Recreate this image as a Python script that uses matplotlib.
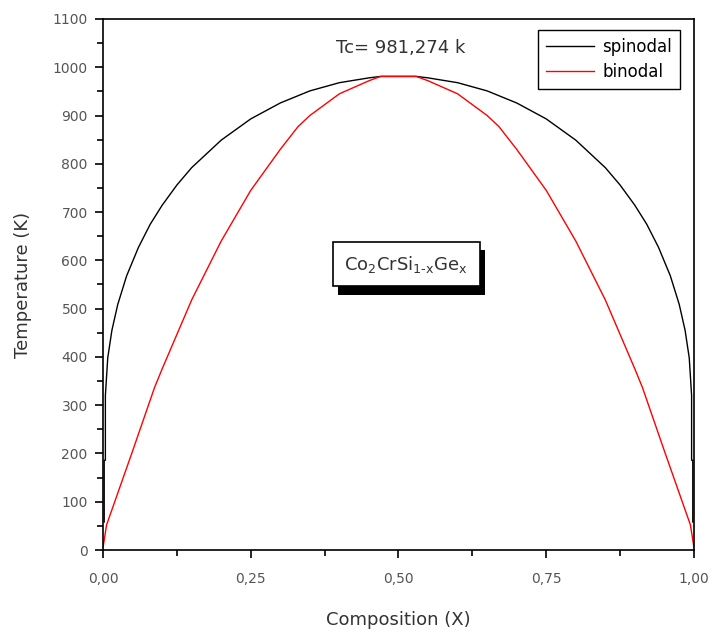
import matplotlib
matplotlib.use("Agg")
import matplotlib.pyplot as plt
import matplotlib.patheffects as pe
from matplotlib.ticker import MultipleLocator, FuncFormatter

plt.rcParams["font.family"] = ["DejaVu Sans"]

# spinodal curve (black)
spin_x = [0.002, 0.002, 0.004, 0.004, 0.008, 0.015, 0.025, 0.04, 0.06, 0.08,
          0.10, 0.125, 0.15, 0.20, 0.25, 0.30, 0.35, 0.40, 0.45, 0.47,
          0.53, 0.55, 0.60, 0.65, 0.70, 0.75, 0.80, 0.85, 0.875, 0.90,
          0.92, 0.94, 0.96, 0.975, 0.985, 0.992, 0.996, 0.996, 0.998, 0.998]
spin_T = [58, 186, 186, 320, 398, 455, 509, 568, 627, 675,
          714, 756, 792, 849, 893, 926, 951, 968, 978, 981,
          981, 978, 968, 951, 926, 893, 849, 792, 756, 714,
          675, 627, 568, 509, 455, 398, 320, 186, 186, 58]

# binodal curve (red)
bin_x = [0.0, 0.006, 0.025, 0.05, 0.087, 0.10, 0.15, 0.20, 0.25, 0.30,
         0.33, 0.35, 0.40, 0.45, 0.47, 0.53, 0.55, 0.60, 0.65, 0.67,
         0.70, 0.75, 0.80, 0.85, 0.90, 0.913, 0.95, 0.975, 0.994, 1.0]
bin_T = [5, 52, 118, 205, 336, 375, 518, 640, 745, 830,
         877, 900, 945, 972, 981, 981, 972, 945, 900, 877,
         830, 745, 640, 518, 375, 336, 205, 118, 52, 5]

fig = plt.figure(figsize=(7.09, 6.32), dpi=100)
ax = fig.add_axes([0.1453, 0.1297, 0.8335, 0.8403])

ax.plot(spin_x, spin_T, color="black", lw=1.0, label="spinodal")
ax.plot(bin_x, bin_T, color="red", lw=1.0, label="binodal")

ax.set_xlim(0, 1)
ax.set_ylim(0, 1100)
ax.xaxis.set_major_locator(MultipleLocator(0.25))
ax.xaxis.set_minor_locator(MultipleLocator(0.125))
ax.yaxis.set_major_locator(MultipleLocator(100))
ax.yaxis.set_minor_locator(MultipleLocator(50))
ax.xaxis.set_major_formatter(FuncFormatter(lambda v, p: f"{v:.2f}".replace(".", ",")))
ax.tick_params(which="both", direction="out", top=False, right=False,
               labelsize=10, labelcolor="#555555", width=1.2)
ax.tick_params(which="major", length=6)
ax.tick_params(which="minor", length=4)
ax.tick_params(axis="x", which="major", pad=10)
ax.tick_params(axis="y", which="major", pad=5)
for s in ax.spines.values():
    s.set_linewidth(1.2)

ax.set_xlabel("Composition (X)", fontsize=13, color="#333333", labelpad=18)
ax.set_ylabel("Temperature (K)", fontsize=13, color="#333333", labelpad=15)

ax.text(0.504, 1040, "Tc= 981,274 k", ha="center", va="center", fontsize=13, color="#333333")

t = ax.text(0.513, 592, r"Co$_2$CrSi$_{\mathrm{1\text{-}x}}$Ge$_\mathrm{x}$", ha="center", va="center",
            fontsize=13, color="#333333",
            bbox=dict(boxstyle="square,pad=0.65", fc="white", ec="black", lw=1.2))
t.get_bbox_patch().set_path_effects([
    pe.SimplePatchShadow(offset=(4, -6), shadow_rgbFace="black", alpha=1.0),
    pe.Normal()])

leg = ax.legend(loc="upper right", bbox_to_anchor=(0.976, 0.979), fontsize=12,
                fancybox=False, edgecolor="black", framealpha=1, handlelength=2.9,
                borderpad=0.45, labelspacing=0.45, handletextpad=0.5,
                borderaxespad=0)
leg.get_frame().set_linewidth(1.0)

fig.savefig("out.png", dpi=100)
